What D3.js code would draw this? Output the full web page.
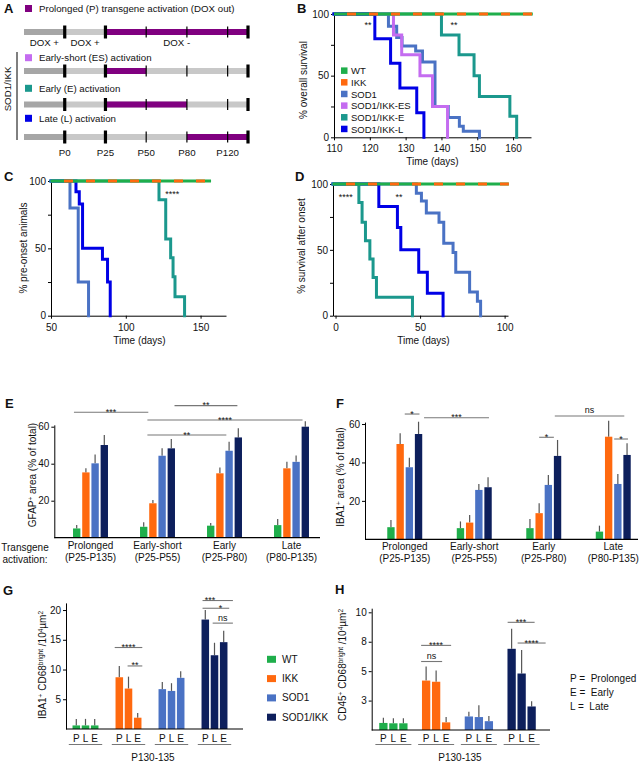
<!DOCTYPE html>
<html>
<head>
<meta charset="utf-8">
<script src="https://cdn.jsdelivr.net/npm/d3@7"></script>
<style>
  body { margin: 0; background: #fff; }
  text { font-family: "Liberation Sans", Arial, sans-serif; fill: #111; }
</style>
</head>
<body>
<script>
// ---------- colours
const cWT = "#1fae4b", cIKK = "#ff690f", cSOD = "#4a72c4", cSI = "#0d1f5c";
const cES = "#c46cf0", cE = "#1b988d", cL = "#0000e6", cPur = "#800080";

// ---------- A: activation schematic
const aStops = ["start", "P0", "P25", "P50", "P80", "P120", "P135"];
const aStopLabels = ["", "P0", "P25", "P50", "P80", "P120", ""];
const aThick = ["P0", "P25", "P135"];
const aRowNames = ["Prolonged (P) transgene activation (DOX out)", "Early-short (ES) activation", "Early (E) activation", "Late (L) activation"];
const aRowColors = [cPur, cES, cE, cL];
const aRowOn = [["P25", "P135"], ["P25", "P50"], ["P25", "P80"], ["P80", "P135"]];
const aDox = [["start", "P0", "DOX +"], ["P0", "P25", "DOX +"], ["P25", "P135", "DOX -"]];

// ---------- B: overall survival (days, % at each drop)
const bDaysSOD = [125.2, 127.5, 129, 132.8, 134.7, 138.2, 141.9, 145, 146.1, 150.6];
const bPctSOD  = [90, 81, 74, 70, 61, 25, 16, 9, 5, 0];
const bDaysES  = [126.6, 128.9, 134, 137.5, 141.7];
const bPctES   = [83, 67, 50, 25, 0];
const bDaysE   = [140, 144.9, 149.1, 150.6, 159.1, 161];
const bPctE    = [83, 67, 50, 33, 17, 0];
const bDaysL   = [121.4, 125.8, 128.4, 133.1, 135.1];
const bPctL    = [80, 60, 40, 20, 0];
const bLegend  = ["WT", "IKK", "SOD1", "SOD1/IKK-ES", "SOD1/IKK-E", "SOD1/IKK-L"];

// ---------- C: onset
const cDaysSOD = [62.7, 68.2, 75.1];
const cPctSOD  = [80, 25, 0];
const cDaysL   = [66.7, 68.9, 71.1, 84.4, 87.8, 89.6];
const cPctL    = [92, 83, 50, 42, 25, 0];
const cDaysE   = [122.2, 126.7, 130, 131.6, 132.9, 139.3];
const cPctE    = [86, 57, 43, 29, 14, 0];

// ---------- D: survival after onset
const dDaysSOD = [47.8, 50.8, 53.7, 61.2, 64, 69.5, 71.1, 79.3, 83.9, 85.8];
const dPctSOD  = [93, 87, 78, 71, 55, 48, 33, 18, 11, 0];
const dDaysL   = [25.6, 36.6, 38.6, 49.2, 54.3, 63.6];
const dPctL    = [83, 67, 50, 33, 17, 0];
const dDaysE   = [13.8, 15.7, 17.7, 20.3, 22.2, 24.2, 45.5];
const dPctE    = [86, 71, 57, 43, 29, 14, 0];

// ---------- E / F: area bars (series x activation group)
const efGroups = ["Prolonged", "Early-short", "Early", "Late"];
const efRanges = ["(P25-P135)", "(P25-P55)", "(P25-P80)", "(P80-P135)"];
const genos = ["WT", "IKK", "SOD1", "SOD1/IKK"];
const eVals = [[5.0, 5.9, 6.5, 6.8], [35.3, 18.6, 34.8, 37.5], [40.2, 44.3, 47, 41], [50.1, 48.3, 54.2, 60]];
const eErrs = [[1.8, 2.4, 1.4, 3.3], [2.2, 1.8, 3.2, 3.5], [4.8, 4, 4.9, 3.5], [5.4, 5, 4.9, 3]];
// [group, bar, group, bar, level, label, label position (bar units, optional)]
const eSig = [[0, -0.3, 1, 0.5, 67.8, "***"], [1, 3.35, 2, 2.9, 71.4, "**"], [1, 0.4, 3, 2.7, 63.6, "****"], [1, 0.4, 2, 1.7, 55.5, "**"]];
const fVals = [[6.3, 5.8, 5.8, 4.0], [49.6, 8.7, 13.6, 53.4], [37.5, 25.7, 28.3, 28.8], [54.8, 27.1, 43.4, 43.9]];
const fErrs = [[3.8, 3.5, 4.8, 3.1], [5.6, 4, 5.2, 8.3], [5, 3.1, 5.2, 5.2], [6.4, 5.2, 8.3, 6.1]];
const fSig = [[0, 1.5, 0, 3.1, 65.2, "*"], [0, 3.6, 1, 3.1, 63.3, "***"], [2, 2.7, 3, 2.7, 64.2, "ns"], [2, 1, 2, 2.6, 53.1, "*"], [3, 1.6, 3, 3.1, 52.2, "*"]];

// ---------- G / H: cell counts (genotype x P, L, E)
const ghSub = ["P", "L", "E"];
const gVals = [[0.6, 0.6, 0.6], [8.7, 6.8, 1.9], [6.7, 6.4, 8.6], [18.4, 12.4, 14.6]];
const gErrs = [[1.1, 1.1, 1.1], [1.9, 2.0, 0.8], [1.2, 1.3, 1.1], [1.6, 2.1, 1.9]];
const gSig = [[1, -0.5, 1, 2.5, 13.7, "****"], [1, 0.9, 1, 2.5, 10.6, "**"], [3, -0.3, 3, 3, 21.6, "***", 0.5], [3, -0.3, 3, 2.6, 20.3, "*", 1.65], [3, 0.8, 3, 3, 17.8, "ns"]];
const hVals = [[0.6, 0.57, 0.57], [4.2, 4.1, 0.65], [1.15, 1.1, 0.75], [6.9, 4.8, 2.0]];
const hErrs = [[0.45, 0.43, 0.43], [1.2, 0.95, 0.45], [0.4, 1.0, 0.45], [1.7, 2.0, 0.45]];
const hSig = [[1, -0.5, 1, 1.6, 5.82, "ns"], [1, -0.5, 1, 2.5, 7.19, "****"], [3, -0.4, 3, 2.3, 9.15, "***"], [3, 0.6, 3, 3.4, 7.39, "****"]];
const hKey = ["P =  Prolonged", "E =  Early", "L =  Late"];

const genoColors = [cWT, cIKK, cSOD, cSI];

const svg = d3.select("body").append("svg").attr("width", 643).attr("height", 765);
svg.append("rect").attr("width", 643).attr("height", 765).attr("fill", "#fff");

function letter(t, x, y) {
  svg.append("text").attr("x", x).attr("y", y).attr("font-size", 13).attr("font-weight", "bold").text(t);
}
function vlabel(parts, x, y, size) {
  const t = svg.append("text").attr("transform", `translate(${x},${y}) rotate(-90)`)
    .attr("text-anchor", "middle").attr("font-size", size || 10);
  parts.forEach(p => {
    const s = t.append("tspan").text(p[0]);
    if (p[1]) s.attr("font-size", 6.5).attr("baseline-shift", "super");
  });
}
function styleAxis(g) {
  g.selectAll("path,line").attr("stroke", "#000").attr("stroke-width", 1);
  g.selectAll("text").attr("font-size", 10).attr("fill", "#111")
    .attr("font-family", '"Liberation Sans", Arial, sans-serif');
}

// ================= A
letter("A", 4, 13);
const aX = d3.scaleLinear().domain([0, 5.5]).range([24, 248]);
const aPos = s => aX(Math.min(aStops.indexOf(s), 5.5));
const aBarY = [32, 71, 104.5, 137], aLegY = [8.5, 57.7, 88.3, 118.3];
aRowNames.forEach((name, i) => {
  const y = aBarY[i];
  svg.append("rect").attr("x", 25).attr("y", aLegY[i] - 3.5).attr("width", 7).attr("height", 7).attr("fill", aRowColors[i]);
  svg.append("text").attr("x", 39).attr("y", aLegY[i] + 3.6).attr("font-size", 9.7).text(name);
  svg.append("rect").attr("x", aPos("start")).attr("y", y - 3).attr("width", aPos("P0") - aPos("start")).attr("height", 6).attr("fill", "#a6a6a6");
  svg.append("rect").attr("x", aPos("P0")).attr("y", y - 3).attr("width", aPos("P135") - aPos("P0")).attr("height", 6).attr("fill", "#c8c8c8");
  svg.append("rect").attr("x", aPos(aRowOn[i][0])).attr("y", y - 3).attr("width", aPos(aRowOn[i][1]) - aPos(aRowOn[i][0])).attr("height", 6).attr("fill", cPur);
  aStops.slice(1).forEach(s => {
    const thick = aThick.includes(s);
    svg.append("rect").attr("x", aPos(s) - (thick ? 1.6 : 0.6)).attr("y", y - (thick ? 6.5 : 5.5))
      .attr("width", thick ? 3.2 : 1.2).attr("height", thick ? 13 : 11).attr("fill", "#000");
  });
});
aDox.forEach(d => {
  svg.append("text").attr("x", (aPos(d[0]) + aPos(d[1])) / 2).attr("y", 46).attr("text-anchor", "middle")
    .attr("font-size", 9.7).text(d[2]);
});
aStops.forEach((s, i) => {
  if (!aStopLabels[i]) return;
  svg.append("text").attr("x", aPos(s)).attr("y", 155.5).attr("text-anchor", "middle").attr("font-size", 9.7).text(aStopLabels[i]);
});
svg.append("line").attr("x1", 17).attr("x2", 17).attr("y1", 52).attr("y2", 140).attr("stroke", "#000").attr("stroke-width", 1);
svg.append("text").attr("transform", "translate(11,89) rotate(-90)").attr("text-anchor", "middle").attr("font-size", 9.7).text("SOD1/IKK");

// ================= survival panels
function survival(p) {
  const x = d3.scaleLinear().domain(p.xd).range(p.xr);
  const y = d3.scaleLinear().domain([0, 100]).range(p.yr);
  const ay = svg.append("g").attr("transform", `translate(${p.xr[0]},0)`)
    .call(d3.axisLeft(y).tickValues([0, 25, 50, 75, 100]).tickFormat(d => d % 50 ? "" : d).tickSize(3).tickPadding(2).tickSizeOuter(0));
  styleAxis(ay);
  const ax = svg.append("g").attr("transform", `translate(0,${p.yr[0]})`)
    .call(d3.axisBottom(x).tickValues(p.xt).tickSize(3).tickPadding(5).tickSizeOuter(0));
  styleAxis(ax);
  const line = d3.line().x(d => x(d[0])).y(d => y(d[1])).curve(d3.curveStepAfter);
  p.curves.forEach(c => {
    const pts = [[p.xd[0], 100]].concat(c.days.map((d, i) => [d, c.pct[i]]));
    svg.append("path").attr("d", line(pts)).attr("fill", "none").attr("stroke", c.color)
      .attr("stroke-width", 3).attr("stroke-linejoin", "miter").attr("stroke-linecap", "square");
  });
  const top = [[p.xd[0], 100], [p.dashEnd, 100]];
  svg.append("path").attr("d", d3.line().x(d => x(d[0])).y(d => y(d[1]))(top)).attr("stroke", cWT).attr("stroke-width", 3);
  svg.append("path").attr("d", d3.line().x(d => x(d[0])).y(d => y(d[1]))(top)).attr("stroke", cIKK).attr("stroke-width", 3)
    .attr("stroke-dasharray", "9,13").attr("stroke-dashoffset", 9);
  p.stars.forEach(s => svg.append("text").attr("x", x(s[0])).attr("y", y(s[1])).attr("text-anchor", "middle").attr("font-size", 9).text(s[2]));
  svg.append("text").attr("x", (p.xr[0] + p.xr[1]) / 2 + p.tOff).attr("y", p.yr[0] + 28).attr("text-anchor", "middle").attr("font-size", 10).text("Time (days)");
  vlabel([[p.ylab]], p.ylx, p.yly, 10);
  return x;
}

letter("B", 297, 13);
survival({
  xd: [110, 165], xr: [334, 531], yr: [137.3, 14], xt: [110, 120, 130, 140, 150, 160], dashEnd: 165.5,
  curves: [
    { days: bDaysSOD, pct: bPctSOD, color: cSOD },
    { days: bDaysES, pct: bPctES, color: cES },
    { days: bDaysE, pct: bPctE, color: cE },
    { days: bDaysL, pct: bPctL, color: cL }],
  stars: [[119.5, 89, "**"], [143.5, 89, "**"]],
  ylab: "% overall survival", ylx: 307, yly: 80, tOff: 0
});
const bColors = [cWT, cIKK, cSOD, cES, cE, cL];
bLegend.forEach((n, i) => {
  const yy = 70.7 + i * 11.66;
  svg.append("rect").attr("x", 341).attr("y", yy - 3.3).attr("width", 6.5).attr("height", 6.5).attr("fill", bColors[i]);
  svg.append("text").attr("x", 351).attr("y", yy + 3.5).attr("font-size", 9.5).text(n);
});

letter("C", 4, 181);
survival({
  xd: [50, 167], xr: [51, 226], yr: [315.7, 181], xt: [50, 100, 150], dashEnd: 157,
  curves: [
    { days: cDaysSOD, pct: cPctSOD, color: cSOD },
    { days: cDaysL, pct: cPctL, color: cL },
    { days: cDaysE, pct: cPctE, color: cE }],
  stars: [[131, 88, "****"]],
  ylab: "% pre-onset animals", ylx: 27, yly: 248, tOff: 1
});

letter("D", 295, 181);
survival({
  xd: [-1.5, 102], xr: [333, 508], yr: [315.7, 184], xt: [0, 50, 100], dashEnd: 102.5,
  curves: [
    { days: dDaysSOD, pct: dPctSOD, color: cSOD },
    { days: dDaysL, pct: dPctL, color: cL },
    { days: dDaysE, pct: dPctE, color: cE }],
  stars: [[6, 88, "****"], [37.5, 88, "**"]],
  ylab: "% survival after onset", ylx: 305, yly: 246, tOff: 3
});

// ================= bar panels
function bars(p) {
  const x0 = d3.scaleBand().domain(d3.range(p.ng)).range(p.gr);
  const x1 = d3.scaleBand().domain(d3.range(p.ns)).range([-p.half, p.half]).paddingInner(p.pi).paddingOuter(p.pi / 2);
  const y = d3.scaleLinear().domain(p.yd).range(p.yr);
  const bx = (g, s) => x0(g) + x0.bandwidth() / 2 + x1(0) + x1.step() * s + x1.bandwidth() / 2;
  const ay = svg.append("g").attr("transform", `translate(${p.xr[0]},0)`)
    .call(d3.axisLeft(y).tickValues(p.yt).tickSize(3).tickPadding(2).tickSizeOuter(0));
  styleAxis(ay);
  for (let g = 0; g < p.ng; g++) for (let s = 0; s < p.ns; s++) {
    const v = p.val(g, s), e = p.err(g, s), cx = bx(g, s);
    svg.append("line").attr("x1", cx).attr("x2", cx).attr("y1", y(v)).attr("y2", y(v + e)).attr("stroke", "#555").attr("stroke-width", 1.2);
    svg.append("rect").attr("x", cx - x1.bandwidth() / 2).attr("y", y(v)).attr("width", x1.bandwidth())
      .attr("height", y(0) - y(v)).attr("fill", p.color(g, s));
  }
  svg.append("line").attr("x1", p.xr[0]).attr("x2", p.xr[1]).attr("y1", y(0)).attr("y2", y(0)).attr("stroke", "#000").attr("stroke-width", 1.2);
  p.sig.forEach(d => {
    const xa = bx(d[0], d[1]), xb = bx(d[2], d[3]), yy = y(d[4]);
    const tx = d[6] !== undefined ? bx(d[2], d[6]) : (xa + xb) / 2;
    svg.append("line").attr("x1", xa).attr("x2", xb).attr("y1", yy).attr("y2", yy).attr("stroke", "#777").attr("stroke-width", 1.1);
    svg.append("text").attr("x", tx).attr("y", d[5][0] === "*" ? yy + 2.5 : yy - 2.5)
      .attr("text-anchor", "middle").attr("font-size", 9).text(d[5]);
  });
  return { x0, bx, y };
}

// E
letter("E", 5, 408);
const eS = bars({
  ng: 4, ns: 4, gr: [57, 325], half: 18.4, pi: 0.2, xr: [54.3, 320], yd: [0, 61], yr: [537.7, 424.85], yt: [20, 40, 60],
  val: (g, s) => eVals[s][g], err: (g, s) => eErrs[s][g], color: (g, s) => genoColors[s], sig: eSig
});
vlabel([["GFAP"], ["+", 1], [" area (% of total)"]], 36, 475, 10);
efGroups.forEach((n, i) => {
  const cx = eS.x0(i) + eS.x0.bandwidth() / 2;
  svg.append("text").attr("x", cx).attr("y", 549).attr("text-anchor", "middle").attr("font-size", 10).text(n);
  svg.append("text").attr("x", cx).attr("y", 561).attr("text-anchor", "middle").attr("font-size", 10).text(efRanges[i]);
});
svg.append("text").attr("x", 25).attr("y", 550.5).attr("text-anchor", "middle").attr("font-size", 10).text("Transgene");
svg.append("text").attr("x", 25).attr("y", 562.5).attr("text-anchor", "middle").attr("font-size", 10).text("activation:");

// F
letter("F", 336, 408);
const fS = bars({
  ng: 4, ns: 4, gr: [370, 648], half: 18.4, pi: 0.2, xr: [365, 638], yd: [0, 61], yr: [539.3, 422.1], yt: [20, 40, 60],
  val: (g, s) => fVals[s][g], err: (g, s) => fErrs[s][g], color: (g, s) => genoColors[s], sig: fSig
});
vlabel([["IBA1"], ["+", 1], [" area (% of total)"]], 344, 477, 10);
efGroups.forEach((n, i) => {
  const cx = fS.x0(i) + fS.x0.bandwidth() / 2;
  svg.append("text").attr("x", cx).attr("y", 550).attr("text-anchor", "middle").attr("font-size", 10).text(n);
  svg.append("text").attr("x", cx).attr("y", 561.5).attr("text-anchor", "middle").attr("font-size", 10).text(efRanges[i]);
});

// G / H shared bits
function subLabels(S, half, mid) {
  for (let g = 0; g < 4; g++) {
    ghSub.forEach((t, s) => svg.append("text").attr("x", S.bx(g, s)).attr("y", 741.5).attr("text-anchor", "middle").attr("font-size", 10).text(t));
    const c = S.x0(g) + S.x0.bandwidth() / 2;
    svg.append("line").attr("x1", c - half).attr("x2", c + half).attr("y1", 744.5).attr("y2", 744.5).attr("stroke", "#777").attr("stroke-width", 1.1);
  }
  svg.append("text").attr("x", mid).attr("y", 761).attr("text-anchor", "middle").attr("font-size", 10).text("P130-135");
}

letter("G", 3, 595);
const gS = bars({
  ng: 4, ns: 3, gr: [64, 236], half: 13.8, pi: 0.18, xr: [66, 243], yd: [0, 21.2], yr: [729, 602.9], yt: [5, 10, 15, 20],
  val: (g, s) => gVals[g][s], err: (g, s) => gErrs[g][s], color: (g, s) => genoColors[g], sig: gSig
});
vlabel([["IBA1"], ["+", 1], [" CD68"], ["bright", 1], [" /10"], ["4", 1], ["µm"], ["2", 1]], 46, 665, 10);
subLabels(gS, 16.7, 153);
genos.forEach((n, i) => {
  const yy = 659.3 + i * 19.3;
  svg.append("rect").attr("x", 267).attr("y", yy - 3.5).attr("width", 9).attr("height", 7).attr("fill", genoColors[i]);
  svg.append("text").attr("x", 282).attr("y", yy + 3.5).attr("font-size", 10).text(n);
});

letter("H", 335, 594);
const hS = bars({
  ng: 4, ns: 3, gr: [372, 543], half: 15, pi: 0.17, xr: [371.7, 550], yd: [0, 10.35], yr: [730, 608.2], yt: [2.5, 5, 7.5, 10],
  val: (g, s) => hVals[g][s], err: (g, s) => hErrs[g][s], color: (g, s) => genoColors[g], sig: hSig
});
vlabel([["CD45"], ["+", 1], [" CD68"], ["bright", 1], [" /10"], ["4", 1], ["µm"], ["2", 1]], 346, 665, 10);
subLabels(hS, 18, 460);
hKey.forEach((t, i) => {
  svg.append("text").attr("x", 570).attr("y", 681.5 + i * 14.2).attr("font-size", 10).attr("xml:space", "preserve").style("white-space", "pre").text(t);
});
</script>
</body>
</html>
